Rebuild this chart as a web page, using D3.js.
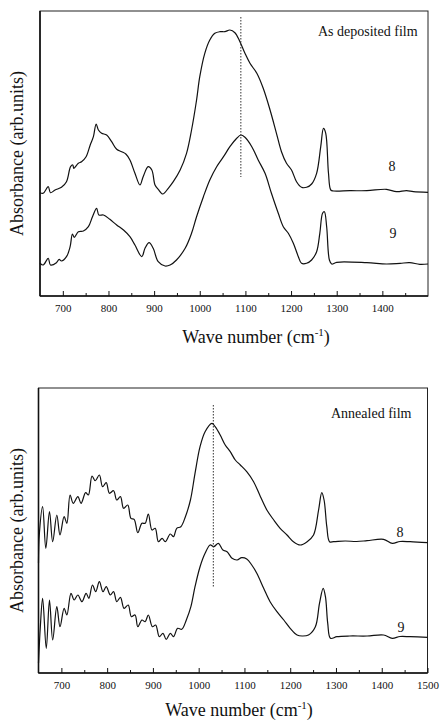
<!DOCTYPE html>
<html>
<head>
<meta charset="utf-8">
<script src="https://cdn.jsdelivr.net/npm/d3@7/dist/d3.min.js"></script>
<style>
  html, body { margin: 0; padding: 0; background: #fff; }
  svg { display: block; }
  text { font-family: "Liberation Serif", "Times New Roman", serif; fill: #111; }
</style>
</head>
<body>
<svg id="chart" width="440" height="720"></svg>
<script>
// ---------- DATA (wavenumber cm^-1, absorbance arb. units) ----------
const xTicksTop = [700, 800, 900, 1000, 1100, 1200, 1300, 1400];
const xTicksBottom = [700, 800, 900, 1000, 1100, 1200, 1300, 1400, 1500];
const xMinorTicks = [750, 850, 950, 1050, 1150, 1250, 1350, 1450];

const depositedLabel = "As deposited film";
const annealedLabel = "Annealed film";
const sampleLabels = ["8", "9"];
const depositedMarker = 1090;
const annealedMarker = 1032;

const deposited8 = [
  [650,103.3],[657,102.7],[668,109.3],[673,103.3],[683,106],[697,108.7],[708,114.3],
  [717,129.3],[722,131],[724,127.7],[734,132.7],[741,134.3],[751,139.3],[760,151],
  [767,159.3],[773,172],[778,166],[785,162.7],[796,161],[807,154.3],[818,146.7],
  [829,144.3],[838,142],[847,136],[858,122.7],[869,111],[876,119.3],[887,129.3],
  [895,126],[902,111],[909,106.7],[919,102],[931,107.7],[942,114.3],[957,126],
  [971,142.7],[982,166],[993,196],[1000,219.3],[1011,242.7],[1022,256],[1033,262.7],
  [1044,264.3],[1055,264.3],[1066,266],[1077,263.3],[1088,254.3],[1099,242.7],
  [1110,232.7],[1125,222.7],[1139,207.7],[1154,186],[1168,162.7],[1179,144.3],
  [1190,132.7],[1201,126],[1212,114.3],[1223,108.7],[1234,108.7],[1245,112],
  [1256,122.7],[1265,149.3],[1271,167.7],[1276,162.7],[1282,122.7],[1287,106],
  [1293,105],[1329,105.3],[1366,105.3],[1409,106.7],[1431,104.3],[1453,105.3],
  [1468,104.3],[1500,103.7]
];
const deposited9 = [
  [650,32.7],[657,31],[668,37.7],[673,31],[686,33.3],[692,36.7],[697,35],[708,39.3],
  [716,49.3],[721,62],[725,58.7],[734,64.3],[745,65],[756,69.3],[765,79.3],[774,87.7],
  [779,81],[789,81],[803,76.7],[818,71],[833,66],[847,59.3],[858,51],[873,39.3],
  [880,47.7],[889,53.3],[898,47.7],[909,34.3],[924,30],[935,31],[949,36],[968,47.7],
  [982,62.7],[993,79.3],[1008,99.3],[1022,116],[1037,129.3],[1052,139.3],[1066,149.3],
  [1081,157.7],[1090,161],[1099,158.7],[1114,149.3],[1128,136],[1143,122.7],
  [1157,102.7],[1172,82.7],[1183,69.3],[1194,62.7],[1205,52.7],[1216,39.3],
  [1223,32.7],[1234,32.7],[1245,36],[1256,44.3],[1263,62.7],[1269,82.7],[1273,84.3],
  [1278,69.3],[1284,36],[1289,32],[1300,33.7],[1366,33.3],[1409,32],[1439,32.7],
  [1460,33.3],[1482,31.7],[1500,32]
];
const annealed8 = [
  [650,109.7],[652,140],[659,166.3],[666,124.7],[674,161.3],[681,131.3],[690,158],
  [697,138],[706,156.3],[712,149.7],[719,178],[726,169.7],[736,176.3],[743,169.7],
  [753,180.3],[759,178],[767,197],[774,192.3],[783,198],[790,186.3],[798,190.3],
  [805,179.7],[814,182.3],[821,173],[829,176.3],[836,164.7],[845,168],[852,154.7],
  [859,153.7],[867,140.3],[876,149.7],[883,149.7],[890,159],[898,143],[905,144.7],
  [912,131.3],[920,134.7],[927,131.3],[938,139],[945,136.3],[952,144.7],[961,146.3],
  [971,156.3],[982,173],[992,199.7],[1003,226.3],[1014,241.3],[1029,249.7],
  [1036,246.3],[1047,238],[1058,228],[1069,221.3],[1080,213],[1091,208],[1105,201.3],
  [1120,191.3],[1135,176.3],[1149,163],[1164,153],[1178,144.7],[1193,138],
  [1207,131.3],[1222,128],[1237,131.3],[1251,138],[1262,163],[1269,180.3],[1274,173],
  [1280,146.3],[1286,131.3],[1295,131.3],[1320,132],[1345,131.5],[1368,132.3],
  [1404,133.7],[1423,129.7],[1440,131.5],[1462,131.3],[1500,130.3]
];
const annealed9 = [
  [650,9.7],[654,46.3],[659,74.7],[667,24.7],[674,73],[681,33],[690,66.3],[697,46.3],
  [706,64.7],[712,58],[721,79.7],[728,73],[736,78],[745,71.3],[754,79.7],[760,74.7],
  [768,88],[775,81.3],[783,91.3],[791,81.3],[798,86.3],[807,78],[814,81.3],[821,71.3],
  [829,75.7],[837,64.7],[846,68],[853,56.3],[861,58],[867,46.3],[876,53],[883,51.3],
  [890,58],[899,46.3],[906,48],[914,36.3],[922,39.7],[929,33.7],[938,39.7],[945,36.3],
  [954,44.7],[963,43.7],[973,53],[983,66.3],[992,86.3],[1003,106.3],[1014,119.7],
  [1025,128],[1033,126.3],[1043,129.7],[1053,123],[1062,121.3],[1073,114.7],[1084,113],
  [1094,115.3],[1105,114],[1116,108],[1127,99.7],[1142,84.7],[1156,71.3],[1171,61.3],
  [1186,53],[1200,44.7],[1215,38],[1226,37],[1240,38],[1255,46.3],[1264,69.7],
  [1272,84.7],[1277,76.3],[1282,49.7],[1288,34.7],[1302,36.3],[1330,37],[1368,37],
  [1404,38],[1423,34.7],[1440,36.5],[1462,36.3],[1500,35.7]
];

// ---------- DRAWING ----------
const svg = d3.select("#chart");

function panel(cfg) {
  const x = d3.scaleLinear().domain([650, 1500]).range([cfg.left, cfg.right]);
  const y = d3.scaleLinear().domain([0, 285]).range([cfg.bottom, cfg.top]);
  const g = svg.append("g");

  // frame
  g.append("rect")
    .attr("x", cfg.left).attr("y", cfg.top)
    .attr("width", cfg.right - cfg.left).attr("height", cfg.bottom - cfg.top)
    .attr("fill", "none").attr("stroke", "#222").attr("stroke-width", 1);

  // minor ticks
  const minor = d3.axisBottom(x).tickValues(xMinorTicks).tickSize(-3).tickFormat("");
  g.append("g").attr("transform", `translate(0,${cfg.bottom})`).call(minor)
    .call(s => s.select(".domain").remove())
    .selectAll("line").attr("stroke", "#111");

  // major ticks with labels
  const major = d3.axisBottom(x).tickValues(cfg.ticks).tickSize(-5).tickPadding(8)
    .tickFormat(d3.format("d"));
  const ax = g.append("g").attr("transform", `translate(0,${cfg.bottom})`).call(major);
  ax.select(".domain").remove();
  ax.selectAll("line").attr("stroke", "#111");
  ax.selectAll("text").attr("font-size", 11)
    .attr("font-family", "'Liberation Serif', serif").attr("fill", "#222");

  // axis lines (left, bottom) a bit heavier
  g.append("line").attr("x1", cfg.left).attr("x2", cfg.right)
    .attr("y1", cfg.bottom).attr("y2", cfg.bottom)
    .attr("stroke", "#111").attr("stroke-width", 1.6);
  g.append("line").attr("x1", cfg.left).attr("x2", cfg.left)
    .attr("y1", cfg.top).attr("y2", cfg.bottom)
    .attr("stroke", "#111").attr("stroke-width", 1.6);

  // curves
  const line = d3.line().x(d => x(d[0])).y(d => y(d[1])).curve(d3.curveCatmullRom.alpha(0.5));
  cfg.series.forEach(s => {
    g.append("path").datum(s).attr("d", line)
      .attr("fill", "none").attr("stroke", "#111").attr("stroke-width", 1.2)
      .attr("stroke-linejoin", "round");
  });

  // dotted marker
  g.append("line")
    .attr("x1", x(cfg.marker)).attr("x2", x(cfg.marker))
    .attr("y1", y(cfg.markerY[0])).attr("y2", y(cfg.markerY[1]))
    .attr("stroke", "#333").attr("stroke-width", 1).attr("stroke-dasharray", "1.5,1.5");

  // annotation
  g.append("text").attr("x", cfg.noteX).attr("y", cfg.noteY)
    .attr("font-size", 14).text(cfg.note);

  // sample labels
  cfg.sampleLabelPos.forEach((p, i) => {
    g.append("text").attr("x", p[0]).attr("y", p[1])
      .attr("text-anchor", "middle").attr("font-size", 14).text(sampleLabels[i]);
  });

  // x title
  const t = g.append("text").attr("x", cfg.titleX).attr("y", cfg.titleY)
    .attr("text-anchor", "middle").attr("font-size", 18);
  t.append("tspan").text("Wave number (cm");
  t.append("tspan").attr("font-size", 11).attr("dy", -7).text("-1");
  t.append("tspan").attr("dy", 7).text(")");

  // y title
  g.append("text")
    .attr("transform", `translate(23,${(cfg.top + cfg.bottom) / 2}) rotate(-90)`)
    .attr("text-anchor", "middle").attr("font-size", 18)
    .text("Absorbance (arb.units)");
}

panel({
  left: 40, right: 428, top: 11, bottom: 296,
  ticks: xTicksTop, series: [deposited8, deposited9],
  marker: depositedMarker, markerY: [279, 119],
  note: depositedLabel, noteX: 318, noteY: 36,
  sampleLabelPos: [[392, 171], [393, 238]],
  titleX: 256, titleY: 343
});

panel({
  left: 38.5, right: 427.5, top: 388, bottom: 673,
  ticks: xTicksBottom, series: [annealed8, annealed9],
  marker: annealedMarker, markerY: [268, 86],
  note: annealedLabel, noteX: 331, noteY: 418,
  sampleLabelPos: [[400, 537], [401, 632]],
  titleX: 239, titleY: 716
});
</script>
</body>
</html>
